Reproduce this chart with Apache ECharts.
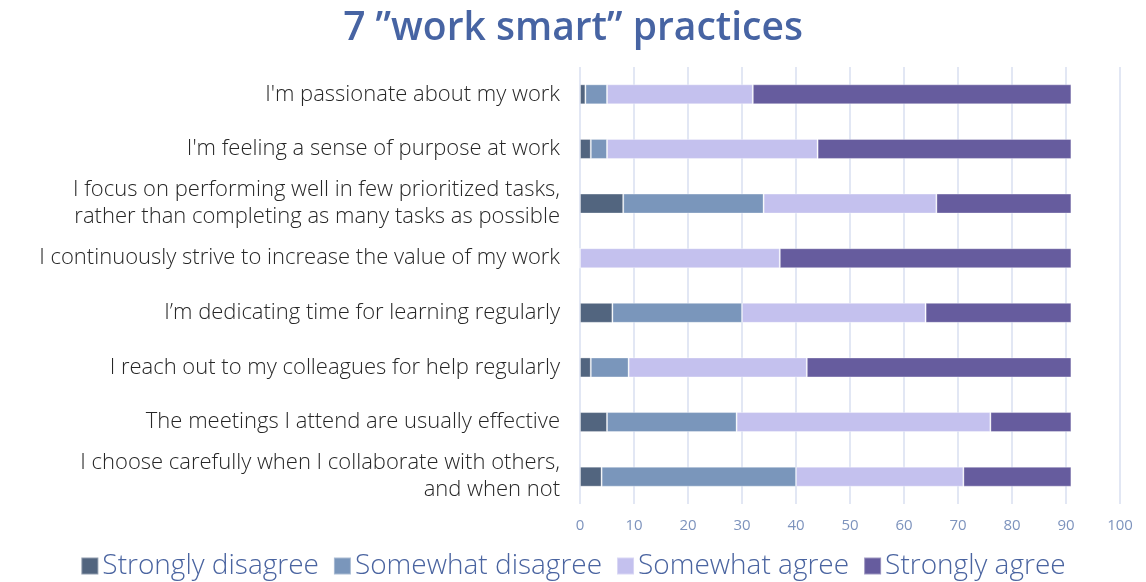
<!DOCTYPE html>
<html>
<head>
<meta charset="utf-8">
<script src="https://cdn.jsdelivr.net/npm/echarts@6/dist/echarts.min.js"></script>
<style>
  html, body { margin: 0; padding: 0; background: #fff; }
  #chart { width: 1146px; height: 582px; }
</style>
</head>
<body>
<div id="chart"></div>
<script>
// 数据
const categories = [
  "I'm passionate about my work",
  "I'm feeling a sense of purpose at work",
  'I focus on performing well in few prioritized tasks,\nrather than completing as many tasks as possible',
  'I continuously strive to increase the value of my work',
  'I’m dedicating time for learning regularly',
  'I reach out to my colleagues for help regularly',
  'The meetings I attend are usually effective',
  'I choose carefully when I collaborate with others,\nand when not'
]
const seriesNames = ['Strongly disagree', 'Somewhat disagree', 'Somewhat agree', 'Strongly agree']
const stronglyDisagree = [1, 2, 8, 0, 6, 2, 5, 4]
const somewhatDisagree = [4, 3, 26, 0, 24, 7, 24, 36]
const somewhatAgree = [27, 39, 32, 37, 34, 33, 47, 31]
const stronglyAgree = [59, 47, 25, 54, 27, 49, 15, 20]
const colors = ['#52657f', '#7a96bb', '#c4c1ee', '#665c9e']

const chart = echarts.init(document.getElementById('chart'))

const textFont = 'Open Sans'
const values = [stronglyDisagree, somewhatDisagree, somewhatAgree, stronglyAgree]

const option = {
  color: colors,
  animation: false,
  title: {
    text: '7 ”work smart” practices',
    left: 'center',
    top: 4,
    textStyle: {
      color: '#4764a3',
      fontSize: 39,
      fontWeight: 600,
      fontFamily: textFont
    }
  },
  legend: {
    top: 547,
    left: 'center',
    itemWidth: 17,
    itemHeight: 17,
    itemGap: 14,
    icon: 'rect',
    textStyle: {
      color: '#4a64a0',
      fontSize: 28,
      fontWeight: 300,
      fontFamily: textFont,
      padding: [0, 0, 0, -1]
    },
    data: seriesNames
  },
  grid: {
    left: 580,
    right: 26,
    top: 67,
    bottom: 78
  },
  xAxis: {
    type: 'value',
    min: 0,
    max: 100,
    interval: 10,
    axisLine: { show: false },
    axisTick: { show: false },
    splitLine: { lineStyle: { color: '#d9dff0', width: 1.5 } },
    axisLabel: {
      color: '#7d93bd',
      fontSize: 15,
      fontFamily: textFont,
      margin: 14
    }
  },
  yAxis: {
    type: 'category',
    inverse: true,
    data: categories,
    axisLine: { show: false },
    axisTick: { show: false },
    axisLabel: {
      color: '#262626',
      fontSize: 22,
      fontWeight: 300,
      fontFamily: textFont,
      lineHeight: 27,
      align: 'right',
      margin: 20,
      padding: [3, 0, 0, 0]
    }
  },
  series: seriesNames.map((name, i) => ({
    name: name,
    type: 'bar',
    stack: 'total',
    barWidth: 20,
    itemStyle: {
      color: colors[i],
      borderColor: 'rgba(255,255,255,0.35)',
      borderWidth: 1
    },
    data: values[i]
  }))
}

chart.setOption(option)

window.addEventListener('resize', () => {
  chart && chart.resize()
})
</script>
</body>
</html>
